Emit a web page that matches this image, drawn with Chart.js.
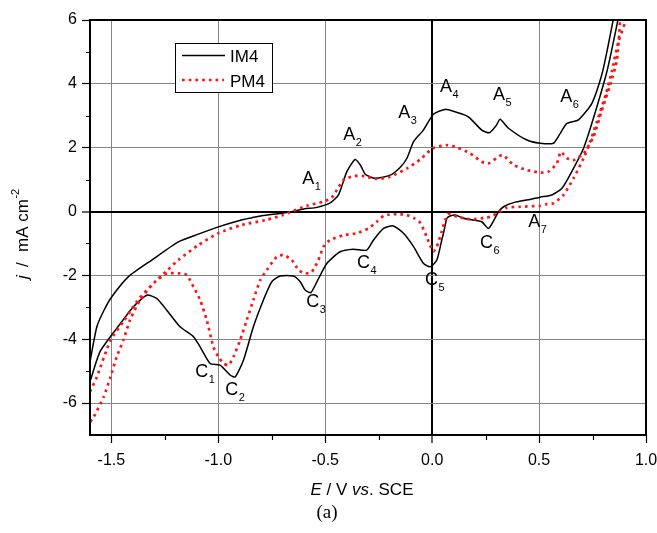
<!DOCTYPE html>
<html>
<head>
<meta charset="utf-8">
<script src="https://cdn.jsdelivr.net/npm/chart.js@4/dist/chart.umd.min.js"></script>
<style>
html,body{margin:0;padding:0;background:#fff;}
#wrap{width:657px;height:533px;}
</style>
</head>
<body>
<div id="wrap"><canvas id="c" width="657" height="533"></canvas></div>
<script>
// ---- data ----
const seriesNames = ["IM4", "PM4"];

const im4X = [-1.600,-1.568,-1.535,-1.498,-1.420,-1.311,-1.187,-1.090,-1.000,-0.900,-0.840,-0.797,-0.680,-0.600,-0.539,-0.477,-0.438,-0.399,-0.360,-0.335,-0.313,-0.267,-0.196,-0.150,-0.118,-0.087,-0.041,0.006,0.061,0.110,0.154,0.178,0.232,0.268,0.300,0.318,0.357,0.443,0.505,0.567,0.599,0.630,0.684,0.747,0.794,0.820,0.845,0.855,
  0.875,0.867,0.817,0.754,0.708,0.653,0.607,0.560,0.505,0.458,0.381,0.334,0.311,0.264,0.232,0.178,0.146,0.108,0.084,0.069,0.053,0.045,0.022,-0.009,-0.041,-0.087,-0.134,-0.181,-0.227,-0.274,-0.306,-0.368,-0.430,-0.492,-0.539,-0.567,-0.594,-0.617,-0.649,-0.711,-0.750,-0.789,-0.836,-0.882,-0.921,-0.945,-0.992,-1.038,-1.085,-1.116,-1.179,-1.241,-1.288,-1.334,-1.397,-1.475,-1.553,-1.600];
const im4Y = [-4.70,-3.61,-3.10,-2.67,-2.04,-1.52,-0.95,-0.70,-0.48,-0.28,-0.19,-0.13,-0.03,0.08,0.13,0.27,0.52,1.25,1.63,1.45,1.17,1.04,1.14,1.38,1.67,2.19,2.55,3.05,3.20,3.12,3.02,2.92,2.55,2.47,2.70,2.89,2.61,2.24,2.14,2.14,2.45,2.76,2.87,3.39,4.30,5.10,5.95,6.30,
  6.30,5.95,4.38,2.92,1.98,1.25,0.73,0.52,0.45,0.38,0.28,0.15,0.00,-0.53,-0.32,-0.25,-0.21,-0.11,-0.14,-0.21,-0.68,-0.89,-1.52,-1.73,-1.62,-1.10,-0.68,-0.45,-0.53,-0.89,-1.21,-1.18,-1.26,-1.62,-2.20,-2.54,-2.46,-2.20,-2.02,-2.02,-2.20,-2.77,-3.61,-4.65,-5.18,-5.12,-4.81,-4.76,-4.24,-3.92,-3.61,-3.09,-2.72,-2.62,-2.98,-3.66,-4.39,-5.33];

const pm4X = [-1.600,-1.568,-1.504,-1.444,-1.382,-1.334,-1.280,-1.240,-1.187,-1.093,-1.000,-0.890,-0.780,-0.696,-0.664,-0.586,-0.508,-0.469,-0.438,-0.414,-0.368,-0.321,-0.259,-0.196,-0.118,-0.056,0.003,0.069,0.115,0.178,0.232,0.264,0.327,0.381,0.443,0.505,0.544,0.583,0.602,0.630,0.661,0.708,0.754,0.794,0.835,0.864,0.879,0.885,
  0.905,0.903,0.871,0.840,0.811,0.770,0.739,0.708,0.661,0.614,0.567,0.536,0.505,0.411,0.349,0.318,0.280,0.256,0.178,0.115,0.076,0.061,0.045,0.022,0.006,-0.010,-0.025,-0.056,-0.087,-0.118,-0.165,-0.204,-0.227,-0.259,-0.298,-0.353,-0.414,-0.477,-0.508,-0.532,-0.563,-0.594,-0.625,-0.656,-0.696,-0.727,-0.773,-0.804,-0.836,-0.867,-0.898,-0.929,-0.952,-0.976,-1.000,-1.023,-1.054,-1.085,-1.116,-1.147,-1.179,-1.241,-1.303,-1.366,-1.413,-1.444,-1.475,-1.504,-1.536,-1.582,-1.600];
const pm4Y = [-5.64,-5.18,-4.03,-3.45,-2.83,-2.46,-2.10,-1.85,-1.52,-1.05,-0.68,-0.42,-0.27,-0.11,-0.02,0.18,0.31,0.44,0.76,0.99,1.11,1.11,1.02,1.09,1.35,1.63,1.98,2.08,2.01,1.82,1.56,1.51,1.77,1.46,1.30,1.22,1.25,1.51,1.87,1.67,1.61,1.82,2.34,3.18,4.02,4.75,5.95,6.30,
  6.30,5.95,5.32,4.38,3.65,2.81,2.19,1.67,1.04,0.52,0.26,0.23,0.18,0.15,0.12,0.00,-0.14,-0.19,-0.24,-0.16,-0.08,-0.27,-0.62,-1.10,-1.25,-1.05,-0.80,-0.35,-0.20,-0.11,-0.08,-0.10,-0.13,-0.32,-0.53,-0.68,-0.74,-0.89,-1.10,-1.52,-1.89,-1.94,-1.83,-1.52,-1.36,-1.42,-1.83,-2.15,-2.77,-3.40,-4.03,-4.55,-4.81,-4.76,-4.55,-4.24,-3.40,-2.77,-2.36,-1.99,-1.94,-1.94,-2.25,-2.77,-3.40,-4.03,-4.55,-5.18,-5.80,-6.43,-6.60];

const xTicks = [-1.5,-1.0,-0.5,0.0,0.5,1.0];
const xMinorTicks = [-1.25,-0.75,-0.25,0.25,0.75];
const yTicks = [-6,-4,-2,0,2,4,6];
const yMinorTicks = [-5,-3,-1,1,3,5];

// peak labels (letter, subscript, anchor position in data units: left / baseline)
const peakLetters = ["A","A","A","A","A","A","A","C","C","C","C","C","C"];
const peakSubs    = ["1","2","3","4","5","6","7","1","2","3","4","5","6"];
const peakX = [-0.608,-0.416,-0.159,0.037,0.285,0.599,0.449,-1.108,-0.968,-0.589,-0.351,-0.033,0.224];
const peakY = [0.86,2.24,2.93,3.74,3.49,3.43,-0.49,-5.18,-5.75,-2.99,-1.77,-2.30,-1.14];

const toXY = (xs, ys) => xs.map((v, i) => ({x: v, y: ys[i]}));

const SANS = '"Liberation Sans", Arial, sans-serif';
const RED = 'rgb(255,20,20)';

const decorPlugin = {
  id: 'decor',
  afterDatasetsDraw(chart) {
    const ctx = chart.ctx;
    const a = chart.chartArea;
    const xs = chart.scales.x, ys = chart.scales.y;
    ctx.save();
    // frame
    ctx.strokeStyle = '#000';
    ctx.lineWidth = 2;
    ctx.strokeRect(a.left, a.top, a.right - a.left, a.bottom - a.top);
    // minor ticks
    ctx.lineWidth = 1.2;
    ctx.beginPath();
    xMinorTicks.forEach(v => {
      const px = Math.round(xs.getPixelForValue(v)) + 0.5;
      ctx.moveTo(px, a.bottom); ctx.lineTo(px, a.bottom + 5);
    });
    yMinorTicks.forEach(v => {
      const py = Math.round(ys.getPixelForValue(v)) + 0.5;
      ctx.moveTo(a.left, py); ctx.lineTo(a.left - 4, py);
    });
    ctx.stroke();

    // legend
    ctx.fillStyle = '#fff';
    ctx.fillRect(175, 43, 97, 49);
    ctx.strokeStyle = '#000';
    ctx.lineWidth = 1;
    ctx.strokeRect(175.5, 43.5, 97, 49);
    ctx.beginPath();
    ctx.lineWidth = 1.5;
    ctx.moveTo(182, 55.5); ctx.lineTo(225, 55.5);
    ctx.stroke();
    ctx.beginPath();
    ctx.strokeStyle = RED;
    ctx.lineWidth = 2.7;
    ctx.setLineDash([2.7, 4]);
    ctx.moveTo(182, 80); ctx.lineTo(224, 80);
    ctx.stroke();
    ctx.setLineDash([]);
    ctx.fillStyle = '#000';
    ctx.font = '17px ' + SANS;
    ctx.textBaseline = 'alphabetic';
    ctx.textAlign = 'left';
    ctx.fillText(seriesNames[0], 230, 62);
    ctx.fillText(seriesNames[1], 230, 86.5);

    // peak labels
    for (let i = 0; i < peakLetters.length; i++) {
      const px = xs.getPixelForValue(peakX[i]);
      const py = ys.getPixelForValue(peakY[i]);
      ctx.font = '18px ' + SANS;
      ctx.fillText(peakLetters[i], px, py);
      const w = ctx.measureText(peakLetters[i]).width;
      ctx.font = '11px ' + SANS;
      ctx.fillText(peakSubs[i], px + w + 0.5, py + 6);
    }

    // x axis title: E / V vs. SCE
    const xParts = [["E", "italic "], [" / V ", ""], ["vs", "italic "], [". SCE", ""]];
    let total = 0;
    xParts.forEach(p => { ctx.font = p[1] + '17px ' + SANS; total += ctx.measureText(p[0]).width; });
    let cx = 362 - total / 2;
    xParts.forEach(p => { ctx.font = p[1] + '17px ' + SANS; ctx.fillText(p[0], cx, 495); cx += ctx.measureText(p[0]).width; });

    // y axis title: j / mA cm^-2 (rotated); rotated x = -(page y)
    ctx.save();
    ctx.translate(28, 0);
    ctx.rotate(-Math.PI / 2);
    ctx.font = 'italic 17px ' + SANS;
    ctx.fillText('j', -279, 0);
    ctx.font = '17px ' + SANS;
    ctx.fillText('/', -267, 0);
    ctx.fillText('mA cm', -252, 0);
    const wmc = ctx.measureText('mA cm').width;
    ctx.font = '11px ' + SANS;
    ctx.fillText('-2', -252 + wmc + 0.5, -9);
    ctx.restore();

    // panel label
    ctx.font = '19px "Liberation Serif", "Times New Roman", serif';
    ctx.textAlign = 'center';
    ctx.fillText('(a)', 327, 518);
    ctx.restore();
  }
};

const gridColor = c => (c.tick && c.tick.value === 0) ? '#000' : '#858585';
const gridWidth = c => (c.tick && c.tick.value === 0) ? 2 : 1;

new Chart(document.getElementById('c'), {
  type: 'scatter',
  data: {
    datasets: [
      {
        label: seriesNames[1],
        data: toXY(pm4X, pm4Y),
        showLine: true,
        borderColor: RED,
        borderWidth: 2.7,
        borderDash: [2.7, 4],
        borderCapStyle: 'butt',
        pointRadius: 0,
        tension: 0.2,
        fill: false
      },
      {
        label: seriesNames[0],
        data: toXY(im4X, im4Y),
        showLine: true,
        borderColor: '#000',
        borderWidth: 1.5,
        pointRadius: 0,
        tension: 0.2,
        fill: false
      }
    ]
  },
  options: {
    responsive: false,
    devicePixelRatio: 1,
    animation: false,
    events: [],
    layout: {padding: {left: 0, right: 11, top: 20, bottom: 0}},
    plugins: {legend: {display: false}, tooltip: {enabled: false}, title: {display: false}},
    scales: {
      x: {
        type: 'linear',
        min: -1.6, max: 1.0,
        afterBuildTicks: s => { s.ticks = xTicks.map(v => ({value: v})); },
        afterFit: s => { s.height = 98; s.paddingRight = 0; s.paddingLeft = 0; },
        border: {display: false},
        grid: {color: gridColor, lineWidth: gridWidth, tickColor: '#000', tickLength: 8, tickWidth: 1.2},
        ticks: {
          color: '#000',
          font: {family: SANS, size: 16},
          padding: 8,
          maxRotation: 0,
          autoSkip: false,
          callback: v => Number(v).toFixed(1)
        }
      },
      y: {
        type: 'linear',
        min: -7, max: 6,
        afterBuildTicks: s => { s.ticks = yTicks.map(v => ({value: v})); },
        afterFit: s => { s.width = 90; s.paddingTop = 0; s.paddingBottom = 0; },
        border: {display: false},
        grid: {color: gridColor, lineWidth: gridWidth, tickColor: '#000', tickLength: 8, tickWidth: 1.2},
        ticks: {
          color: '#000',
          font: {family: SANS, size: 16},
          padding: 5,
          autoSkip: false,
          callback: v => String(v)
        }
      }
    }
  },
  plugins: [decorPlugin]
});
</script>
</body>
</html>
